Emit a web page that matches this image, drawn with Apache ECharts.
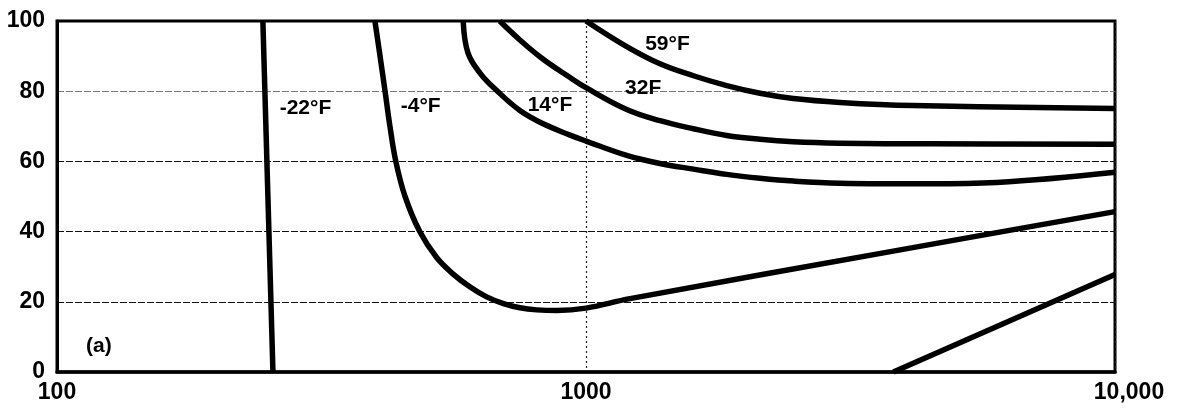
<!DOCTYPE html>
<html>
<head>
<meta charset="utf-8">
<script src="https://cdn.jsdelivr.net/npm/echarts@6/dist/echarts.min.js"></script>
<style>
html,body{margin:0;padding:0;background:#fff;}
#chart{width:1177px;height:415px;}
</style>
</head>
<body>
<div id="chart"></div>
<script>
// ---- data ----
const xTickValues = [100, 1000, 10000];
const xTickLabels = ['100', '1000', '10,000'];
const yTickValues = [0, 20, 40, 60, 80, 100];

const curveM22X = [245, 256];
const curveM22Y = [100, 0];

const curveM4X = [399, 408, 417, 426, 437, 455, 485, 522, 561, 604, 649, 698, 750, 807, 881, 1000, 1211, 3926, 10000];
const curveM4Y = [100, 90, 80, 70, 60, 50, 40, 32.6, 27.9, 24.2, 21.4, 19.5, 18.3, 17.7, 17.5, 18.2, 20.9, 34.8, 45.7];

const curve14X = [586, 598, 631, 678, 750, 830, 933, 1000, 1194, 1380, 1596, 1845, 2133, 2466, 3020, 4467, 5970, 10000];
const curve14Y = [100, 91.0, 85.1, 80.2, 74.5, 70.7, 67.5, 65.8, 61.7, 59.4, 57.8, 56.3, 55.2, 54.4, 53.8, 53.6, 54.0, 56.9];

const curve32X = [687, 750, 830, 933, 1000, 1194, 1380, 1596, 1845, 2133, 2466, 3020, 4467, 10000];
const curve32Y = [100, 94.6, 89.1, 83.9, 81.0, 74.8, 71.6, 69.3, 67.4, 66.3, 65.6, 65.2, 65.0, 64.9];

const curve59X = [1000, 1194, 1380, 1596, 1845, 2133, 2466, 3020, 4150, 10000];
const curve59Y = [100, 92.7, 87.8, 84.4, 81.6, 79.4, 77.9, 76.8, 75.9, 75.1];

const curveLowX = [3811, 10000];
const curveLowY = [0, 27.8];

const labelTexts = ['-22°F', '-4°F', '14°F', '32F', '59°F', '(a)'];
const labelX = [295, 487, 855, 1283, 1426, 120];
const labelY = [75, 75.7, 76.1, 80.8, 93.4, 7.3];

// ---- build ----
function zip(xs, ys) { return xs.map((x, i) => [x, ys[i]]); }
const curves = [
  ['-22°F', curveM22X, curveM22Y],
  ['-4°F', curveM4X, curveM4Y],
  ['14°F', curve14X, curve14Y],
  ['32F', curve32X, curve32Y],
  ['59°F', curve59X, curve59Y],
  ['lower', curveLowX, curveLowY]
];

const FONT = '"Liberation Sans", Arial, Helvetica, sans-serif';

const series = curves.map(c => ({
  name: c[0],
  type: 'line',
  data: zip(c[1], c[2]),
  showSymbol: false,
  symbol: 'none',
  smooth: 0.4,
  lineStyle: { color: '#000', width: 5.5, cap: 'butt', join: 'round' },
  z: 5,
  silent: true
}));

series.push({
  type: 'scatter',
  symbol: 'circle',
  symbolSize: 0.1,
  itemStyle: { color: '#000', opacity: 0 },
  silent: true,
  z: 10,
  data: labelTexts.map((t, i) => ({ name: t, value: [labelX[i], labelY[i]] })),
  label: {
    show: true,
    position: [0, 0],
    formatter: p => p.name,
    color: '#000',
    opacity: 1,
    textBorderWidth: 0,
    fontFamily: FONT,
    fontWeight: 'bold',
    fontSize: 21,
    align: 'center',
    verticalAlign: 'middle'
  }
});

const chart = echarts.init(document.getElementById('chart'), null, { renderer: 'canvas' });
chart.setOption({
  animation: false,
  backgroundColor: '#fff',
  grid: {
    left: 57, right: 62, top: 21, bottom: 43,
    show: true, borderColor: '#000', borderWidth: 3, backgroundColor: 'transparent'
  },
  xAxis: {
    type: 'log',
    logBase: 10,
    min: 100,
    max: 10000,
    axisLine: { show: true, lineStyle: { color: '#000', width: 3.5 } },
    axisTick: { show: false },
    splitLine: { show: true, lineStyle: { color: '#222', width: 1.2, type: [2, 3] } },
    axisLabel: {
      show: true,
      showMinLabel: true,
      showMaxLabel: true,
      margin: 9,
      color: '#000',
      fontFamily: FONT,
      fontWeight: 'bold',
      fontSize: 23,
      formatter: function (v) {
        const i = xTickValues.indexOf(Math.round(v));
        if (i < 0) return '';
        return i === xTickValues.length - 1 ? '{r|' + xTickLabels[i] + '}' : xTickLabels[i];
      },
      rich: {
        r: { padding: [0, 0, 0, 28], fontFamily: FONT, fontWeight: 'bold', fontSize: 23, color: '#000' }
      }
    }
  },
  yAxis: {
    type: 'value',
    min: yTickValues[0],
    max: yTickValues[yTickValues.length - 1],
    interval: 20,
    axisLine: { show: true, lineStyle: { color: '#000', width: 3 } },
    axisTick: { show: false },
    splitLine: {
      show: true,
      lineStyle: { color: ['#000', '#111', '#111', '#111', '#777', '#000'], width: 1.2, type: [7, 2] }
    },
    axisLabel: {
      margin: 12,
      color: '#000',
      fontFamily: FONT,
      fontWeight: 'bold',
      fontSize: 23
    }
  },
  series: series
});
</script>
</body>
</html>
